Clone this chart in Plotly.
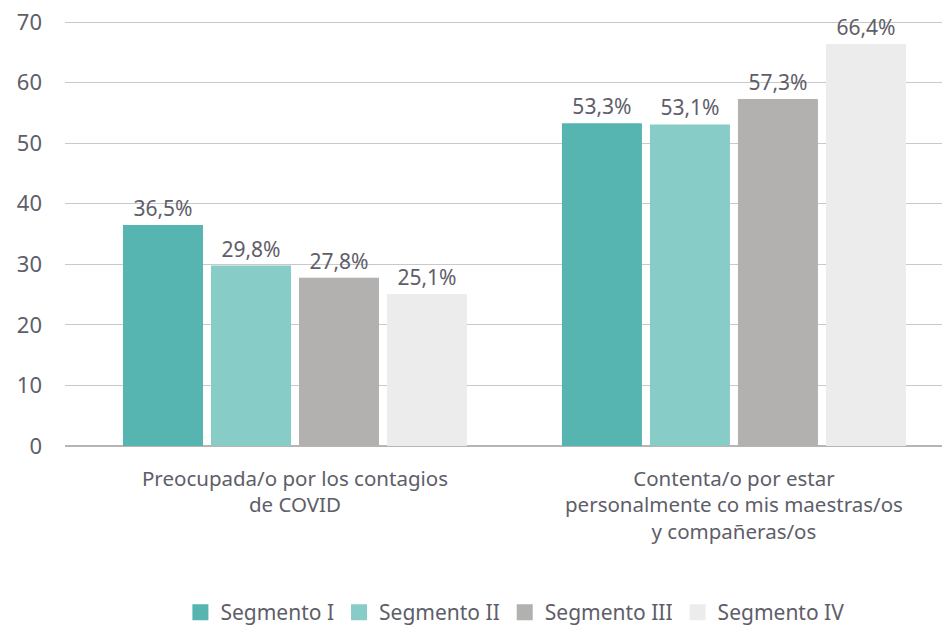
import plotly.graph_objects as go

categories = ["Preocupada/o por los contagios<br>de COVID",
              "Contenta/o por estar<br>personalmente co mis maestras/os<br>y compañeras/os"]
series_names = ["Segmento I", "Segmento II", "Segmento III", "Segmento IV"]
seg1 = [36.5, 53.3]
seg2 = [29.8, 53.1]
seg3 = [27.8, 57.3]
seg4 = [25.1, 66.4]
colors = ["#56b5b0", "#88ccc8", "#b2b1af", "#ececec"]
y_ticks = [0, 10, 20, 30, 40, 50, 60, 70]

txt = "#5e5e69"
font = "Noto Sans"

fig = go.Figure()
for name, vals, col in zip(series_names, [seg1, seg2, seg3, seg4], colors):
    fig.add_trace(go.Bar(
        name=name, x=categories, y=vals, marker_color=col,
        marker_line_width=0, showlegend=False,
        text=[f"{v:.1f}%".replace(".", ",") for v in vals],
        textposition="outside", cliponaxis=False,
        textfont=dict(size=21, color=txt, family=font),
    ))
# legend entries with larger square swatches
for name, col in zip(series_names, colors):
    fig.add_trace(go.Scatter(
        name=name, x=[None], y=[None], mode="markers",
        marker=dict(symbol="square", size=20, color=col), showlegend=True,
    ))

fig.update_layout(
    width=942, height=627,
    margin=dict(l=65, r=0, t=10, b=181, autoexpand=False),
    paper_bgcolor="white", plot_bgcolor="white",
    barmode="group", bargap=0.198, bargroupgap=0.091,
    font=dict(family=font, color=txt, size=20),
    showlegend=True,
    legend=dict(orientation="h", x=0.513, xanchor="center", y=-0.382, yanchor="middle",
                font=dict(size=21, color=txt, family=font), itemwidth=30,
                itemsizing="trace", traceorder="normal"),
    xaxis=dict(range=[-0.524, 1.474], showgrid=False, showline=False, automargin=False,
               tickfont=dict(size=20.5, color=txt), ticks="", ticklabelstandoff=18),
    yaxis=dict(range=[0, 72], tickvals=y_ticks, showgrid=True, gridcolor="#c9c9c9",
               gridwidth=1, zeroline=True, zerolinecolor="#b5b5b5", zerolinewidth=2,
               tickfont=dict(size=22, color=txt), ticks="", ticklabelstandoff=22,
               ticklabeloverflow="allow",
               showline=False, automargin=False),
)

fig.write_html("out.html", config={"displayModeBar": False},
               post_script="document.body.style.margin='0';")
